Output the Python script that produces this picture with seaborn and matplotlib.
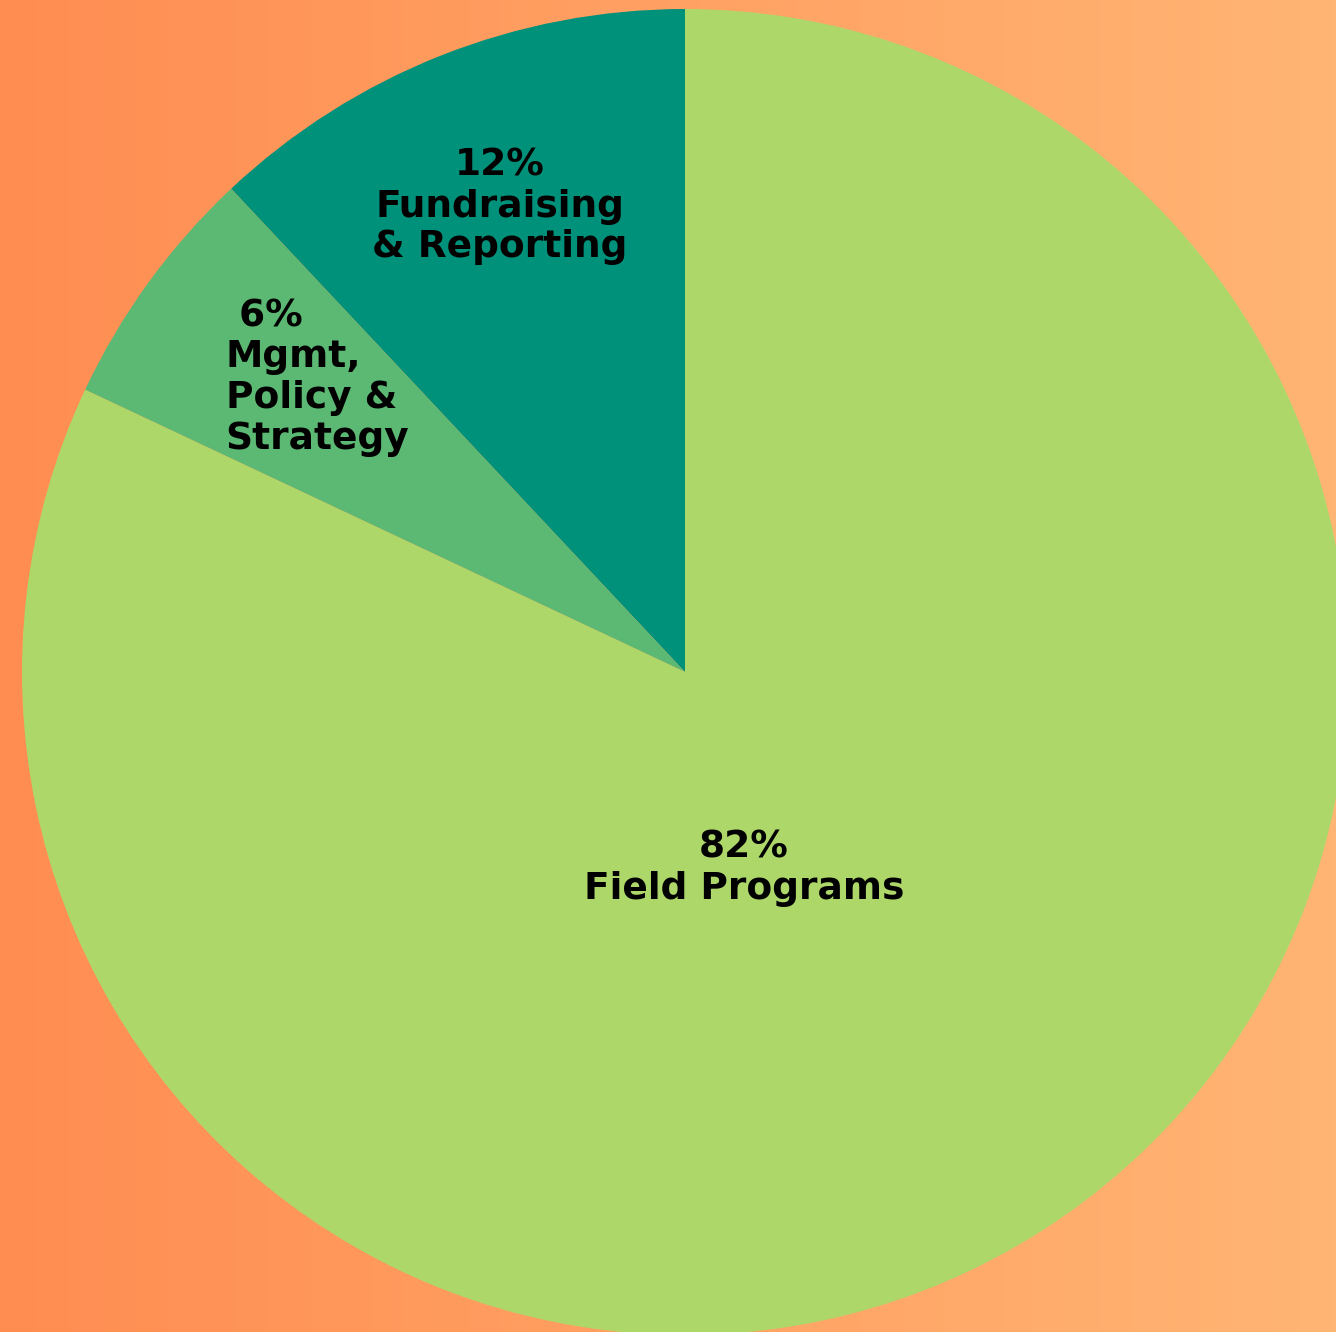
import numpy as np
import pandas as pd
import matplotlib
matplotlib.use('Agg')
import matplotlib.pyplot as plt
from matplotlib.colors import LinearSegmentedColormap
import seaborn as sns

# Data (counterclockwise from the top)
categories = ['Fundraising\n& Reporting', 'Mgmt,\nPolicy &\nStrategy', 'Field Programs']
shares = [12, 6, 82]
colors = ['#00917B', '#5CB974', '#AED76A']

df = pd.DataFrame({'category': categories, 'share': shares})

sns.set_theme(style='white')
plt.rcParams['font.family'] = ['DejaVu Sans']

fig = plt.figure(figsize=(13.36, 13.32), dpi=100)
ax = fig.add_axes([0, 0, 1, 1])

# pie centre at pixel (685, 672), radius 663 px
r_px = 663
xlim = (-685 / r_px, (1336 - 685) / r_px)
ylim = ((672 - 1332) / r_px, 672 / r_px)

# orange background gradient (left to right)
bg = LinearSegmentedColormap.from_list('bg', ['#FF8D52', '#FFB574'])
grad = np.linspace(0, 1, 256).reshape(1, -1)
ax.imshow(grad, cmap=bg, aspect='auto', extent=(*xlim, *ylim), zorder=0)

ax.pie(df['share'], colors=colors, startangle=90, counterclock=True,
       radius=1, wedgeprops=dict(linewidth=0, zorder=1))

ax.set_xlim(*xlim)
ax.set_ylim(*ylim)
ax.set_aspect('auto')
ax.axis('off')

txt = dict(fontsize=27, fontweight='bold', color='black', zorder=3, linespacing=1.17)
ax.text(-0.279, 0.702, f"{shares[0]}%\n{categories[0]}", ha='center', va='center',
        multialignment='center', **txt)
ax.text(-0.693, 0.444, f" {shares[1]}%\n{categories[1]}", ha='left', va='center',
        multialignment='left', **txt)
ax.text(0.089, -0.296, f"{shares[2]}%\n{categories[2]}", ha='center', va='center',
        multialignment='center', **txt)

fig.savefig('out.png', dpi=100)
